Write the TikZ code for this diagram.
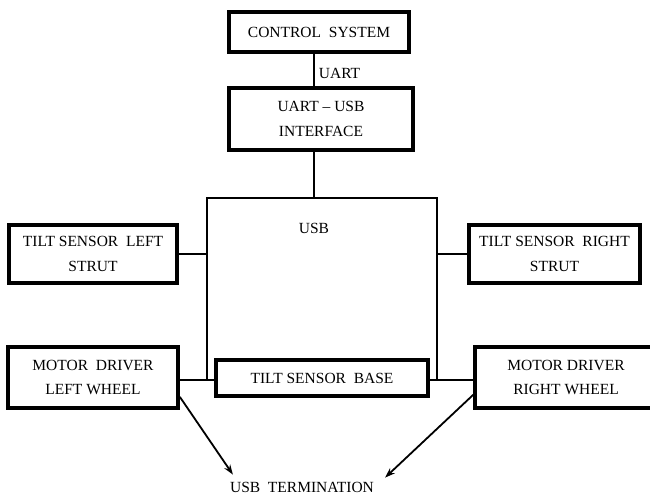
\documentclass[tikz,border=0pt]{standalone}
\usepackage{fontspec}
\setmainfont{Liberation Serif}
\usetikzlibrary{arrows.meta}

\def\boxlw{3.6pt}
\def\buslw{1.8pt}
\tikzset{
   blockbox/.style={draw=black, line width=\boxlw, fill=white, align=center,
      font=\fontsize{15.5}{24.5}\selectfont, inner sep=2pt},
   busline/.style={draw=black, line width=\buslw},
   termarrow/.style={-{Stealth[length=10pt, width=7pt]}, line width=\buslw},
   buslabel/.style={font=\fontsize{15.5}{19.5}\selectfont, inner sep=1pt}
}

\begin{document}
\begin{tikzpicture}[x=1pt, y=-1pt]
\useasboundingbox (0,0) rectangle (650,498);

% top chain
\node[blockbox, minimum width=180pt, minimum height=40pt] (ctrl) at (319,32) {CONTROL\ \ SYSTEM};
\node[blockbox, minimum width=184pt, minimum height=62pt] (uart) at (321,119) {UART -- USB\\INTERFACE};
\coordinate (trunk) at (314,0);

% side sensors and drivers
\node[blockbox, minimum width=168pt, minimum height=58pt] (tsl) at (93,254) {TILT SENSOR\ \ LEFT\\STRUT};
\node[blockbox, minimum width=171pt, minimum height=58pt] (tsr) at (554.5,254) {TILT SENSOR\ \ RIGHT\\STRUT};
\node[blockbox, minimum width=170pt, minimum height=61pt] (mdl) at (93,377.5) {MOTOR\ \ DRIVER\\LEFT WHEEL};
\node[blockbox, minimum width=182pt, minimum height=61pt] (mdr) at (566,377.5) {MOTOR DRIVER\\RIGHT WHEEL};
\node[blockbox, minimum width=212pt, minimum height=36pt] (tsb) at (322,378) {TILT SENSOR\ \ BASE};

% usb termination
\node[buslabel] (term) at (302,487) {USB\ \ TERMINATION};

% bus corners
\coordinate (busTL) at (207,198);
\coordinate (busTR) at (437,198);
\coordinate (busBL) at (207,380);
\coordinate (busBR) at (437,380);

% links
\draw[busline] (ctrl.south -| trunk) -- (uart.north -| trunk) node[pos=0.6, right, buslabel, xshift=3pt] {UART};
\draw[busline] (uart.south -| trunk) -- (trunk |- busTL);
\draw[busline] (busBL) -- (busTL) -- (busTR) -- (busBR);
\draw[busline] (tsl.east) -- (tsl.east -| busTL);
\draw[busline] (tsr.west) -- (tsr.west -| busTR);
\draw[busline] (mdl.east |- busBL) -- (tsb.west |- busBL);
\draw[busline] (tsb.east |- busBR) -- (mdr.west |- busBR);
\node[buslabel] (usb) at (314,228) {USB};

% to termination
\draw[termarrow] ([yshift=13pt]mdl.south east) -- ([xshift=4pt,yshift=6pt]term.north west);
\draw[termarrow] ([yshift=15pt]mdr.south west) -- ([xshift=10pt,yshift=3pt]term.north east);
\end{tikzpicture}
\end{document}
